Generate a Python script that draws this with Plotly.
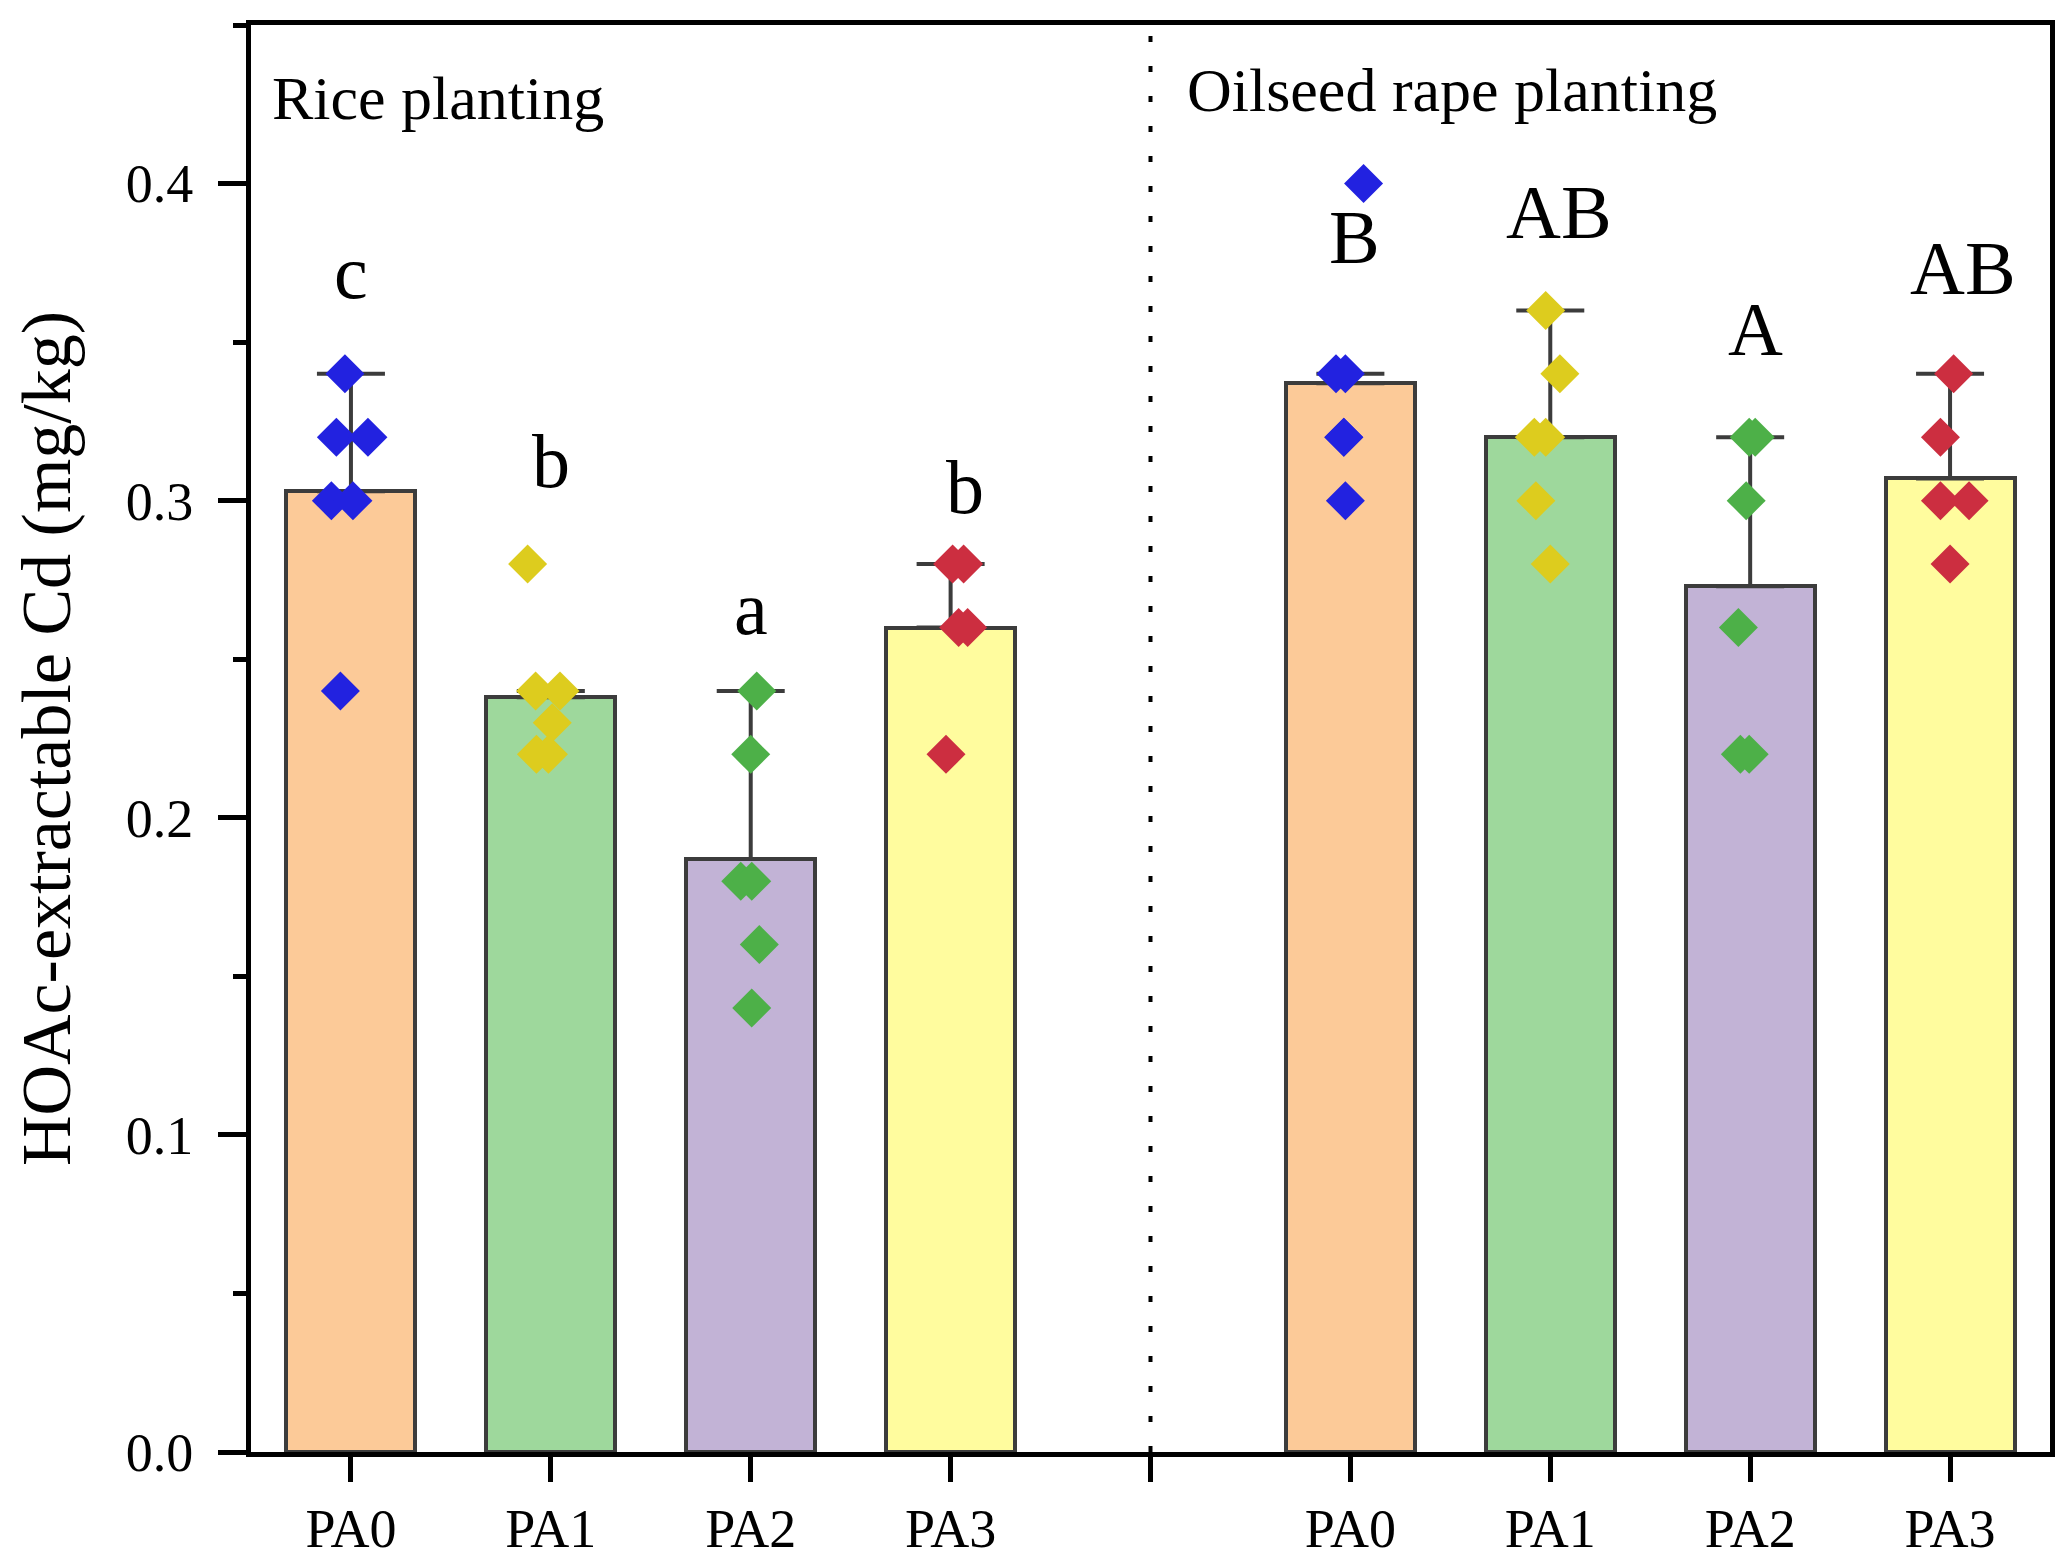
import plotly.graph_objects as go

# ---------------- data ----------------
treatments = ["PA0", "PA1", "PA2", "PA3"]
groups = ["Rice planting", "Oilseed rape planting"]

rice_means = [0.303, 0.238, 0.187, 0.260]
oil_means = [0.337, 0.320, 0.273, 0.307]

rice_err_top = [0.34, 0.24, 0.24, 0.28]
oil_err_top = [0.34, 0.36, 0.32, 0.34]

rice_points = [
    [0.34, 0.32, 0.32, 0.30, 0.30, 0.24],
    [0.28, 0.24, 0.24, 0.23, 0.22, 0.22],
    [0.24, 0.22, 0.18, 0.18, 0.16, 0.14],
    [0.28, 0.28, 0.26, 0.26, 0.22],
]
rice_jitter = [
    [-0.03, -0.073, 0.085, -0.098, 0.01, -0.053],
    [-0.116, -0.076, 0.046, 0.007, -0.072, -0.012],
    [0.03, 0.0, -0.05, 0.005, 0.043, 0.005],
    [0.01, 0.065, 0.04, 0.085, -0.023],
]
oil_points = [
    [0.40, 0.34, 0.34, 0.32, 0.32, 0.30],
    [0.36, 0.34, 0.32, 0.32, 0.30, 0.28],
    [0.32, 0.32, 0.30, 0.26, 0.22, 0.22],
    [0.34, 0.32, 0.30, 0.30, 0.28],
]
oil_jitter = [
    [0.066, -0.072, -0.025, -0.033, -0.033, -0.025],
    [-0.023, 0.048, -0.08, -0.023, -0.072, 0.0],
    [-0.005, 0.025, -0.02, -0.059, -0.049, -0.005],
    [0.018, -0.048, -0.048, 0.095, 0.0],
]

rice_letters = ["c", "b", "a", "b"]
oil_letters = ["B", "AB", "A", "AB"]
rice_letter_y = [0.372, 0.3125, 0.2662, 0.3043]
oil_letter_y = [0.383, 0.391, 0.354, 0.3735]
rice_letter_dx = [0.0, 0.0, 0.0, 0.07]
oil_letter_dx = [0.02, 0.046, 0.026, 0.066]

y_ticks = [0.0, 0.1, 0.2, 0.3, 0.4]
y_minor = [0.05, 0.15, 0.25, 0.35, 0.45]

# ---------------- styles ----------------
bar_colors = ["#FCCA98", "#9ED89C", "#C2B3D6", "#FFFC9E"]
pt_colors = ["#2222E0", "#DDCC1E", "#4DB048", "#CC2E40"]
FONT = "Liberation Serif"
EDGE = "#3c3c3c"

fig = go.Figure()

group_data = [
    (rice_means, rice_err_top, rice_points, rice_jitter, rice_letters, rice_letter_y, rice_letter_dx),
    (oil_means, oil_err_top, oil_points, oil_jitter, oil_letters, oil_letter_y, oil_letter_dx),
]

for gi, (means, tops, pts, jit, letters, ly, ldx) in enumerate(group_data):
    xs = [gi * 5 + i for i in range(len(treatments))]
    fig.add_trace(go.Bar(
        x=xs, y=means, width=0.645,
        marker=dict(color=bar_colors, line=dict(color=EDGE, width=4)),
        error_y=dict(type="data", symmetric=False,
                     array=[t - m for t, m in zip(tops, means)],
                     arrayminus=[0] * len(means),
                     color=EDGE, thickness=4, width=34),
        showlegend=False, hoverinfo="skip",
    ))
    px, py, pc = [], [], []
    for i, (vals, js) in enumerate(zip(pts, jit)):
        for v, j in zip(vals, js):
            px.append(xs[i] + j)
            py.append(v)
            pc.append(pt_colors[i])
    fig.add_trace(go.Scatter(
        x=px, y=py, mode="markers",
        marker=dict(symbol="diamond", size=30, color=pc, line=dict(width=0)),
        showlegend=False, hoverinfo="skip",
    ))
    for i, (lt, yy, dx) in enumerate(zip(letters, ly, ldx)):
        fig.add_annotation(x=xs[i] + dx, y=yy, text=lt, showarrow=False,
                           xanchor="center", yanchor="middle",
                           font=dict(family=FONT, size=76, color="black"))

# group labels
fig.add_annotation(xref="paper", yref="paper", x=0.0105, y=0.9485, text=groups[0],
                   showarrow=False, xanchor="left", yanchor="middle",
                   font=dict(family=FONT, size=62, color="black"))
fig.add_annotation(xref="paper", yref="paper", x=0.519, y=0.9545, text=groups[1],
                   showarrow=False, xanchor="left", yanchor="middle",
                   font=dict(family=FONT, size=62, color="black"))

# dotted separator
fig.add_shape(type="line", xref="x", yref="paper", x0=4, x1=4, y0=0, y1=1,
              line=dict(color="black", width=4, dash="6px,24px"))

tick_text = treatments + [""] + treatments

fig.update_layout(
    width=2067, height=1563,
    margin=dict(l=243, r=25, t=14, b=97),
    plot_bgcolor="white", paper_bgcolor="white",
    font=dict(family=FONT, color="black"),
    bargap=0,
)
fig.update_xaxes(
    range=[-0.5, 8.5], tickmode="array", tickvals=list(range(9)), ticktext=tick_text,
    ticks="outside", ticklen=25, tickwidth=5, tickcolor="black",
    showline=True, linewidth=5, linecolor="black", mirror=True,
    showgrid=False, zeroline=False,
    tickfont=dict(family=FONT, size=54, color="black"),
)
fig.update_yaxes(
    range=[0, 0.45], tickmode="array", tickvals=y_ticks,
    ticktext=[f"{v:.1f}" for v in y_ticks],
    ticks="outside", ticklen=28, tickwidth=5, tickcolor="black",
    minor=dict(tickmode="array", tickvals=y_minor, ticks="outside", ticklen=13,
               tickwidth=5, tickcolor="black", showgrid=False),
    ticklabelstandoff=14,
    showline=True, linewidth=5, linecolor="black", mirror=True,
    showgrid=False, zeroline=False,
    tickfont=dict(family=FONT, size=54, color="black"),
    title=dict(text="HOAc-extractable Cd (mg/kg)", standoff=38,
               font=dict(family=FONT, size=70, color="black")),
)

fig.write_html("out.html")
